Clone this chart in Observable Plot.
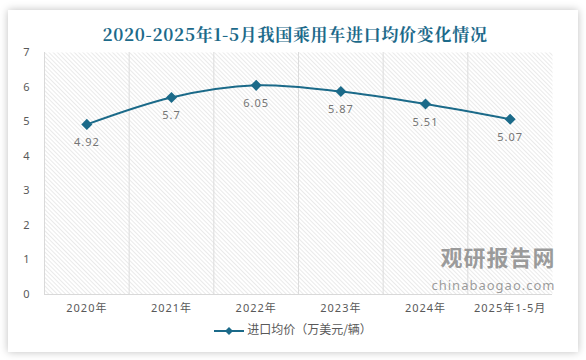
<!DOCTYPE html>
<html><head><meta charset="utf-8">
<script src="https://cdn.jsdelivr.net/npm/d3@7"></script>
<script src="https://cdn.jsdelivr.net/npm/@observablehq/plot@0.6"></script>
<style>
body{margin:0;background:#fff;font-family:"Noto Sans CJK SC","Noto Sans",sans-serif;}
#wrap{position:relative;width:586px;height:360px;overflow:hidden;background:#fff;}
#card{position:absolute;left:8px;top:10px;width:570px;height:342px;background:#fff;box-shadow:0 0 8px rgba(0,0,0,0.25);}
#title{position:absolute;left:0;top:21px;width:590px;text-align:center;font-size:17px;font-weight:bold;color:#1d6a8a;font-family:"Noto Serif CJK SC","Noto Sans CJK SC",serif;letter-spacing:0.7px;}
#chart{position:absolute;left:0;top:0;}
#legend{position:absolute;left:0;top:320px;width:586px;text-align:center;font-size:12px;color:#595959;}
#legend svg{vertical-align:middle;margin-right:3px;}
</style></head>
<body><div id="wrap"><div id="card"></div><div id="chart"></div><div id="title">2020-2025年1-5月我国乘用车进口均价变化情况</div>
<div id="legend"><svg width="30" height="10"><line x1="0" y1="5" x2="30" y2="5" stroke="#1b6a89" stroke-width="2"/><path d="M15,1 L19,5 L15,9 L11,5 Z" fill="#1b6a89"/></svg>进口均价（万美元/辆）</div></div>
<script>
const categories = ["2020年","2021年","2022年","2023年","2024年","2025年1-5月"];
const values = [4.92, 5.7, 6.05, 5.87, 5.51, 5.07];
const yTicks = [0,1,2,3,4,5,6,7];
const data = categories.map((c,i)=>({c, i: i+0.5, v: values[i]}));
const color = "#1b6a89";
const bounds = d3.range(0, categories.length+1);
const plot = Plot.plot({
  width:586, height:360,
  marginLeft:44, marginRight:34, marginTop:52, marginBottom:66,
  style:{background:"transparent", fontFamily:"'Noto Sans', 'Noto Sans CJK SC', sans-serif", fontSize:"11px", color:"#595959", letterSpacing:"1px"},
  x:{domain:[0,categories.length], ticks: data.map(d=>d.i), tickFormat: (t)=>categories[Math.round(t-0.5)], tickSize:0, tickPadding:10, label:null},
  y:{domain:[0,7], ticks:yTicks, tickFormat: d3.format("d"), tickSize:0, tickPadding:14, label:null},
  marks:[
    Plot.frame({fill:"url(#hatch)", stroke:null}),
    Plot.ruleX(bounds.slice(1,-1), {stroke:"#dcdcdc", strokeWidth:1}),
    Plot.ruleX([0], {stroke:"#d9d9d9"}),
    Plot.ruleY([0], {stroke:"#d9d9d9"}),
    Plot.text(["观研报告网"], {frameAnchor:"bottom-right", dx:3, dy:-29, fontSize:22, fontWeight:"bold", fill:"#8a8a8a", fillOpacity:0.85, fontFamily:"'Noto Sans CJK SC'", letterSpacing:"0px"}),
    Plot.text(["chinabaogao.com"], {frameAnchor:"bottom-right", dx:3, dy:-5, fontSize:13, fill:"#8a8a8a", fillOpacity:0.85, letterSpacing:"0.6px"}),
    Plot.line(data, {x:"i", y:"v", stroke:color, strokeWidth:2, curve:"catmull-rom"}),
    Plot.dot(data, {x:"i", y:"v", symbol:"diamond2", r:5, fill:color, stroke:null}),
    Plot.text(data, {x:"i", y:"v", text:d=>String(d.v), dy:18, fill:"#757575", fontSize:11, letterSpacing:"0px"})
  ]
});
const defs = d3.select(plot).insert("defs", ":first-child");
const pat = defs.append("pattern").attr("id","hatch").attr("patternUnits","userSpaceOnUse").attr("width",3).attr("height",3).attr("patternTransform","rotate(-45)");
pat.append("rect").attr("width",3).attr("height",3).attr("fill","#fff");
pat.append("line").attr("x1",0).attr("y1",0).attr("x2",0).attr("y2",3).attr("stroke","#d6d6d6").attr("stroke-width",1);
document.getElementById("chart").appendChild(plot);
</script></body></html>
